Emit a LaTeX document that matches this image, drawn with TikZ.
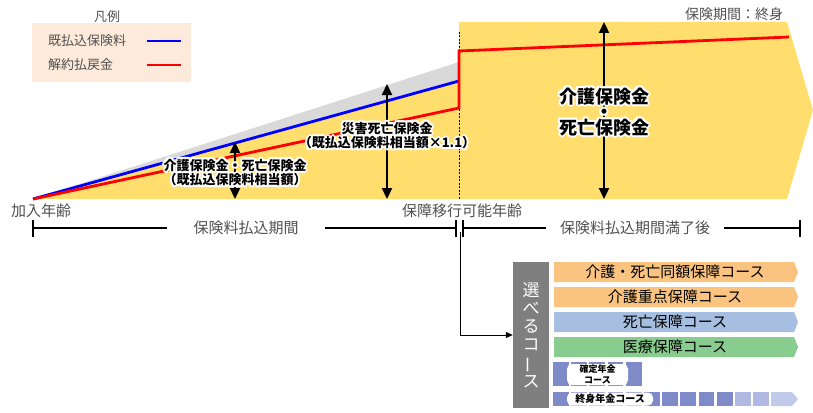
\documentclass[tikz,border=0pt]{standalone}
\usepackage{fontspec}
\setmainfont{Noto Sans CJK JP}
\usetikzlibrary{arrows.meta}
\definecolor{yel}{RGB}{255,222,110}
\definecolor{wedge}{RGB}{217,217,217}
\definecolor{legbg}{RGB}{253,234,218}
\definecolor{txtgray}{RGB}{80,80,80}
\definecolor{orangebar}{RGB}{250,196,128}
\definecolor{bluebar}{RGB}{166,191,224}
\definecolor{greenbar}{RGB}{137,204,143}
\definecolor{pendark}{RGB}{127,139,200}
\definecolor{penlight}{RGB}{176,185,226}
\definecolor{penlighter}{RGB}{194,202,236}
\definecolor{selgray}{RGB}{127,127,127}

\newcommand{\halolabel}[4]{%
  \foreach \ang in {0,45,...,315}{\begin{scope}[shift={(\ang:2pt)}]\node[#3,text=white] at (#2) {#4};\end{scope}}
  \node[#3] (#1) at (#2) {#4};}

\newcommand{\coursebar}[5]{%
  \path[fill=#4] (554,#2) -- (794,#2) -- (798,{(#2+#3)/2}) -- (794,#3) -- (554,#3) -- cycle;
  \node[bartext] (#1) at (675,{(#2+#3)/2}) {#5};}

\tikzset{
  lbl/.style={align=center, inner sep=0pt, font=\fontsize{13}{14.5}\selectfont\bfseries},
  biglbl/.style={align=center, inner sep=0pt, font=\fontsize{18}{15.5}\selectfont\bfseries},
  axistext/.style={text=txtgray, inner sep=0pt, font=\fontsize{15}{15}\selectfont},
  legtext/.style={text=txtgray, inner sep=0pt, anchor=west, font=\fontsize{13}{13}\selectfont},
  bartext/.style={inner sep=0pt, font=\fontsize{15}{15}\selectfont},
  dbl/.style={line width=2.3pt, {Triangle[width=10pt,length=11pt]}-{Triangle[width=10pt,length=11pt]}},
  tline/.style={line width=1.6pt, black},
  penlbl/.style={fill=white, rounded corners=5pt, inner sep=0pt, align=center, font=\fontsize{9}{11}\selectfont\bfseries}
}

\begin{document}
\lineskiplimit=-100pt
\begin{tikzpicture}[x=1pt,y=-1pt]
\useasboundingbox (0,0) rectangle (813,412);

% legend
\node[fill=legbg, minimum width=159pt, minimum height=59pt, inner sep=0pt] (legend) at (111.5,52.5) {};
\node[text=txtgray, inner sep=0pt, font=\fontsize{13}{13}\selectfont] (legtitle) at (107,17) {凡例};
\node[legtext] (leg1) at (48,41) {既払込保険料};
\node[legtext] (leg2) at (48,65) {解約払戻金};
\coordinate (lb1) at (147,41); \coordinate (lb2) at (181,41);
\coordinate (lr1) at (147,65); \coordinate (lr2) at (181,65);
\draw[blue, line width=2.6pt] (lb1) -- (lb2);
\draw[red, line width=2.6pt] (lr1) -- (lr2);

% chart areas
\coordinate (O) at (33,199);
\coordinate (Bend) at (459,81);
\coordinate (Gtop) at (459,62);
\coordinate (Rlow) at (459,108);
\coordinate (Rhigh) at (459,51);
\coordinate (Rend) at (789,37);
\fill[yel] (O) -- (460,80.7) -- (460,199) -- cycle;
\fill[wedge] (O) -- (Gtop) -- (Bend) -- cycle;
\fill[yel] (459,22) -- (787,22) -- (813,110) -- (787,199) -- (459,199) -- cycle;

\node[text=txtgray, inner sep=0pt, font=\fontsize{14}{14}\selectfont] (term) at (734,14) {保険期間：終身};

\draw[line width=0.7pt, dash pattern=on 2pt off 1.5pt] (459.5,32) -- (459.5,199);
\draw[blue, line width=2.8pt] (O) -- (Bend);
\draw[red, line width=2.8pt, line join=miter] (O) -- (Rlow) -- (Rhigh) -- (Rend);

% double arrows
\coordinate (a1t) at (235,142); \coordinate (a1b) at (235,199);
\coordinate (a2t) at (387,84); \coordinate (a2b) at (387,199);
\coordinate (a3t) at (604,22); \coordinate (a3b) at (604,199);
\draw[dbl] (a1t) -- (a1b);
\draw[dbl] (a2t) -- (a2b);
\draw[dbl] (a3t) -- (a3b);

\halolabel{lab1}{235,172.5}{lbl}{介護保険金・死亡保険金\\（既払込保険料相当額）}
\halolabel{lab2}{387,135.5}{lbl}{災害死亡保険金\\（既払込保険料相当額×1.1）}
\halolabel{lab3}{604,112}{biglbl}{介護保険金\\・\\死亡保険金}

% axis
\node[axistext] (join) at (41,211) {加入年齢};
\node[axistext] (shift) at (462,211) {保障移行可能年齢};

\coordinate (t0) at (33,228);
\draw[tline] (33,220) -- (33,237);
\node[axistext, inner xsep=26pt] (tl1) at (246,228) {保険料払込期間};
\node[axistext, inner xsep=14pt] (tl2) at (635,228) {保険料払込期間満了後};
\coordinate (bar1) at (456,228); \coordinate (bar2) at (463,228);
\coordinate (t1) at (800,228);
\draw[tline] (t0) -- (tl1.west);
\draw[tline] (tl1.east) -- (bar1);
\draw[tline] (456,220) -- (456,237);
\draw[tline] (463,220) -- (463,237);
\draw[tline] (bar2) -- (tl2.west);
\draw[tline] (tl2.east) -- (t1);
\draw[tline] (800,220) -- (800,237);

% selectable courses
\node[fill=selgray, minimum width=36pt, minimum height=146pt, inner sep=0pt, text=white, align=center,
  font=\fontsize{17}{18.2}\selectfont] (sel) at (531,335)
  {選\\べ\\る\\コ\\\rotatebox[origin=c]{90}{ー}\\ス};
\coordinate (down) at (460,232);
\draw[line width=1pt, -{Triangle[width=6pt,length=7pt]}] (down) |- (sel.west);

\coursebar{c1}{262}{282}{orangebar}{介護・死亡同額保障コース}
\coursebar{c2}{287}{307}{orangebar}{介護重点保障コース}
\coursebar{c3}{312}{332}{bluebar}{死亡保障コース}
\coursebar{c4}{337}{357}{greenbar}{医療保障コース}

% pension rows
\foreach \k in {0,...,4}{\fill[pendark] ({553+18.2*\k},362) rectangle ++(15.8,24);}
\foreach \k in {0,...,9}{\fill[pendark] ({553+18.2*\k},392) rectangle ++(15.8,14);}
\foreach \k in {10,11}{\fill[penlight] ({553+18.2*\k},392) rectangle ++(15.8,14);}
\fill[penlighter] (771,392) -- (792,392) -- (798,399) -- (792,406) -- (771,406) -- cycle;
\node[penlbl, minimum width=61pt, minimum height=21pt] (p1) at (597.5,374.5) {確定年金\\コース};
\node[penlbl, minimum width=86pt, minimum height=13pt, font=\fontsize{10}{10}\selectfont\bfseries] (p2) at (610,399) {終身年金コース};
\end{tikzpicture}
\end{document}
